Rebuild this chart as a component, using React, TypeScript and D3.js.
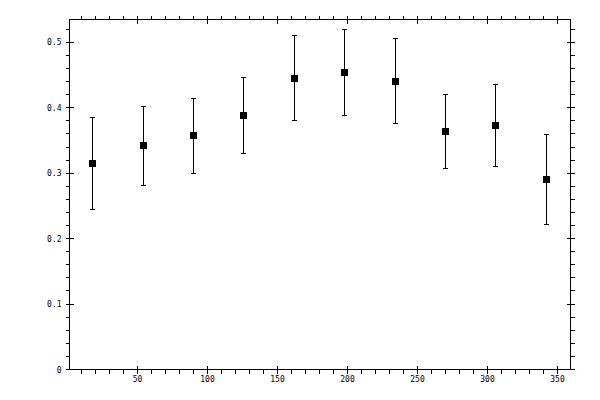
import React, { useEffect, useRef } from 'react'
import * as d3 from 'd3'

const xValues = [18, 54, 90, 126, 162, 198, 234, 270, 306, 342]
const yValues = [0.315, 0.342, 0.358, 0.388, 0.445, 0.454, 0.44, 0.364, 0.373, 0.291]
const yLower = [0.245, 0.281, 0.3, 0.33, 0.381, 0.388, 0.376, 0.307, 0.311, 0.222]
const yUpper = [0.385, 0.402, 0.414, 0.447, 0.51, 0.52, 0.506, 0.4205, 0.436, 0.359]

const xMajorTicks = [50, 100, 150, 200, 250, 300, 350]
const xTickLabels = ['50', '100', '150', '200', '250', '300', '350']
const xMinorTicks = d3.range(10, 360, 10).filter((v) => v % 50 !== 0)
const yMajorTicks = [0, 0.1, 0.2, 0.3, 0.4, 0.5]
const yTickLabels = ['0', '0.1', '0.2', '0.3', '0.4', '0.5']
const yMinorTicks = d3.range(1, 27).map((i) => i * 0.02).filter((_, i) => (i + 1) % 5 !== 0)

const App: React.FC = () => {
  const svgRef = useRef<SVGSVGElement | null>(null)

  useEffect(() => {
    if (!svgRef.current) {
      return
    }
    const svg = d3.select(svgRef.current)
    svg.selectAll('*').remove()

    const width = 600
    const height = 400

    svg.attr('width', width).attr('height', height).attr('viewBox', `0 0 ${width} ${height}`)

    const xScale = d3.scaleLinear().domain([1.4, 359.3]).range([69.5, 570.5])
    const yScale = d3.scaleLinear().domain([0, 0.535]).range([369.5, 19.5])

    const px = (v: number) => Math.round(xScale(v) - 0.5) + 0.5
    const py = (v: number) => Math.round(yScale(v) - 0.5) + 0.5

    const [x0, x1] = xScale.range()
    const [y0, y1] = yScale.range()

    const axes = svg.append('g').attr('stroke', '#000').attr('stroke-width', 1).attr('shape-rendering', 'crispEdges')

    // frame
    axes
      .append('rect')
      .attr('x', x0)
      .attr('y', y1)
      .attr('width', x1 - x0)
      .attr('height', y0 - y1)
      .attr('fill', 'none')

    // x minor ticks: outward on top and bottom
    axes
      .selectAll('line.xminor-b')
      .data(xMinorTicks)
      .enter()
      .append('line')
      .attr('x1', (d) => px(d))
      .attr('x2', (d) => px(d))
      .attr('y1', y0)
      .attr('y2', y0 + 4)
    axes
      .selectAll('line.xminor-t')
      .data(xMinorTicks)
      .enter()
      .append('line')
      .attr('x1', (d) => px(d))
      .attr('x2', (d) => px(d))
      .attr('y1', y1)
      .attr('y2', y1 - 4)

    // x major ticks: cross the axis
    axes
      .selectAll('line.xmajor-b')
      .data(xMajorTicks)
      .enter()
      .append('line')
      .attr('x1', (d) => px(d))
      .attr('x2', (d) => px(d))
      .attr('y1', y0 - 4)
      .attr('y2', y0 + 4)
    axes
      .selectAll('line.xmajor-t')
      .data(xMajorTicks)
      .enter()
      .append('line')
      .attr('x1', (d) => px(d))
      .attr('x2', (d) => px(d))
      .attr('y1', y1 - 4)
      .attr('y2', y1 + 4)

    // y minor ticks: outward on left and right
    axes
      .selectAll('line.yminor-l')
      .data(yMinorTicks)
      .enter()
      .append('line')
      .attr('x1', x0)
      .attr('x2', x0 - 4)
      .attr('y1', (d) => py(d))
      .attr('y2', (d) => py(d))
    axes
      .selectAll('line.yminor-r')
      .data(yMinorTicks)
      .enter()
      .append('line')
      .attr('x1', x1)
      .attr('x2', x1 + 4)
      .attr('y1', (d) => py(d))
      .attr('y2', (d) => py(d))

    // y major ticks
    axes
      .selectAll('line.ymajor-l')
      .data(yMajorTicks)
      .enter()
      .append('line')
      .attr('x1', x0 - 4)
      .attr('x2', x0 + 4)
      .attr('y1', (d) => py(d))
      .attr('y2', (d) => py(d))
    axes
      .selectAll('line.ymajor-r')
      .data(yMajorTicks)
      .enter()
      .append('line')
      .attr('x1', x1 - 4)
      .attr('x2', x1 + 4)
      .attr('y1', (d) => py(d))
      .attr('y2', (d) => py(d))

    const labels = svg
      .append('g')
      .attr('font-family', '"DejaVu Sans Mono", monospace')
      .attr('font-size', 8)
      .attr('fill', '#000')

    labels
      .selectAll('text.xlabel')
      .data(xMajorTicks)
      .enter()
      .append('text')
      .attr('x', (d) => xScale(d))
      .attr('y', y0 + 12)
      .attr('text-anchor', 'middle')
      .text((_, i) => xTickLabels[i])

    labels
      .selectAll('text.ylabel')
      .data(yMajorTicks)
      .enter()
      .append('text')
      .attr('x', x0 - 8)
      .attr('y', (d) => yScale(d) + 3)
      .attr('text-anchor', 'end')
      .text((_, i) => yTickLabels[i])

    const points = xValues.map((x, i) => ({ x, y: yValues[i], lo: yLower[i], hi: yUpper[i] }))

    const bars = svg.append('g').attr('stroke', '#000').attr('stroke-width', 1).attr('shape-rendering', 'crispEdges')

    bars
      .selectAll('line.err')
      .data(points)
      .enter()
      .append('line')
      .attr('x1', (d) => px(d.x))
      .attr('x2', (d) => px(d.x))
      .attr('y1', (d) => py(d.lo))
      .attr('y2', (d) => py(d.hi))
    bars
      .selectAll('line.cap-hi')
      .data(points)
      .enter()
      .append('line')
      .attr('x1', (d) => px(d.x) - 2.5)
      .attr('x2', (d) => px(d.x) + 2.5)
      .attr('y1', (d) => py(d.hi))
      .attr('y2', (d) => py(d.hi))
    bars
      .selectAll('line.cap-lo')
      .data(points)
      .enter()
      .append('line')
      .attr('x1', (d) => px(d.x) - 2.5)
      .attr('x2', (d) => px(d.x) + 2.5)
      .attr('y1', (d) => py(d.lo))
      .attr('y2', (d) => py(d.lo))

    svg
      .append('g')
      .selectAll('rect')
      .data(points)
      .enter()
      .append('rect')
      .attr('x', (d) => px(d.x) - 3.5)
      .attr('y', (d) => py(d.y) - 3.5)
      .attr('width', 7)
      .attr('height', 7)
      .attr('fill', '#000')
      .attr('shape-rendering', 'crispEdges')
  }, [])

  return (
    <svg
      ref={svgRef}
      style={{ position: 'absolute', left: 0, top: 0, background: '#fff' }}
      role="img"
      aria-label="Error bar chart"
    />
  )
}

export default App
